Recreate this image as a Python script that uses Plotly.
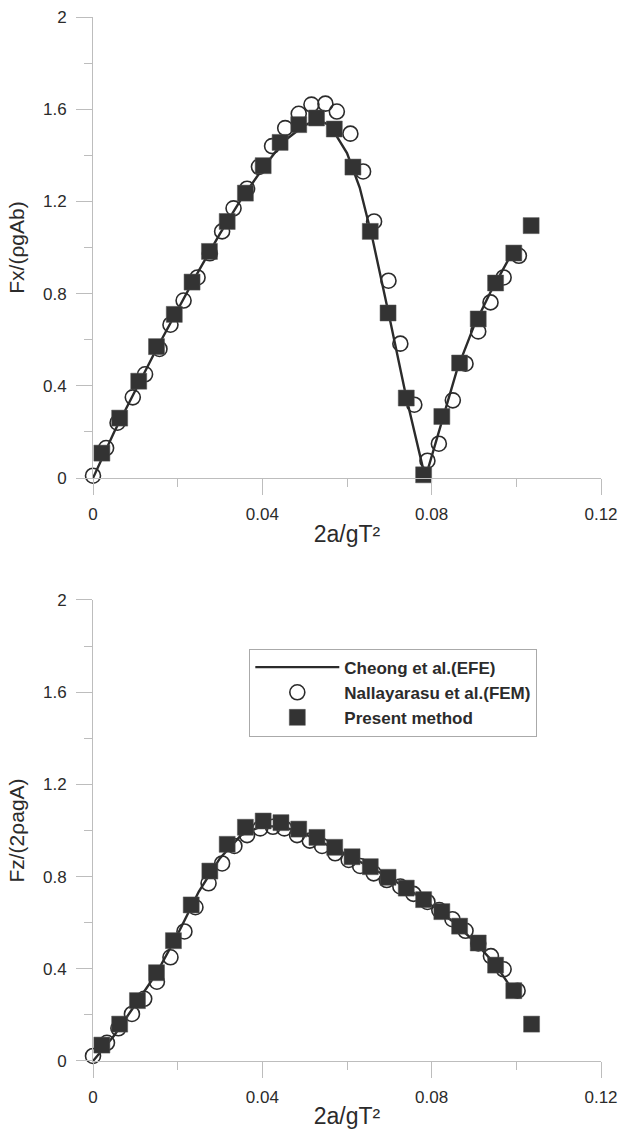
import plotly.graph_objects as go

# ---------------- Top panel: Fx ----------------
fx_line_x = [0.0, 0.005, 0.010, 0.015, 0.020, 0.025, 0.030, 0.035, 0.040, 0.045,
             0.050, 0.053, 0.056, 0.060, 0.063, 0.066, 0.070, 0.074, 0.0785,
             0.082, 0.086, 0.090, 0.094, 0.0985]
fx_line_y = [0.0, 0.20, 0.38, 0.56, 0.73, 0.90, 1.06, 1.21, 1.34, 1.46,
             1.53, 1.555, 1.53, 1.41, 1.26, 1.04, 0.70, 0.35, 0.0,
             0.22, 0.47, 0.66, 0.81, 0.96]

fx_fem_x = [0.0, 0.0031, 0.0058, 0.0094, 0.0123, 0.0157, 0.0183, 0.0214, 0.0247,
            0.0276, 0.0305, 0.0332, 0.0364, 0.0392, 0.0423, 0.0454, 0.0486, 0.0516,
            0.0549, 0.0576, 0.0608, 0.0638, 0.0664, 0.0698, 0.0726, 0.0759, 0.0790,
            0.0817, 0.0850, 0.0880, 0.0910, 0.0939, 0.0970, 0.1006]
fx_fem_y = [0.01, 0.13, 0.24, 0.35, 0.45, 0.56, 0.665, 0.77, 0.87,
            0.975, 1.07, 1.17, 1.255, 1.35, 1.44, 1.518, 1.58, 1.62,
            1.624, 1.59, 1.494, 1.33, 1.113, 0.856, 0.583, 0.318, 0.075,
            0.149, 0.337, 0.496, 0.636, 0.762, 0.87, 0.964]

fx_pm_x = [0.0021, 0.0063, 0.0108, 0.0150, 0.0192, 0.0234, 0.0275, 0.0317, 0.0360,
           0.0402, 0.0442, 0.0486, 0.0528, 0.0570, 0.0614, 0.0655, 0.0697, 0.0740,
           0.0781, 0.0824, 0.0866, 0.0910, 0.0951, 0.0994, 0.1035]
fx_pm_y = [0.108, 0.26, 0.42, 0.57, 0.71, 0.85, 0.983, 1.113, 1.236,
           1.355, 1.456, 1.533, 1.562, 1.514, 1.349, 1.07, 0.716, 0.347,
           0.014, 0.267, 0.499, 0.69, 0.846, 0.976, 1.095]

# ---------------- Bottom panel: Fz ----------------
fz_line_x = [0.0, 0.005, 0.010, 0.015, 0.020, 0.025, 0.030, 0.035, 0.040, 0.045,
             0.050, 0.055, 0.060, 0.065, 0.070, 0.075, 0.080, 0.085, 0.090, 0.095, 0.0994]
fz_line_y = [0.0, 0.11, 0.245, 0.38, 0.55, 0.735, 0.88, 0.98, 1.02, 1.015,
             0.985, 0.94, 0.895, 0.845, 0.795, 0.74, 0.675, 0.605, 0.52, 0.42, 0.30]

fz_fem_x = [0.0, 0.0033, 0.0060, 0.0092, 0.0121, 0.0151, 0.0183, 0.0216, 0.0242,
            0.0273, 0.0305, 0.0334, 0.0364, 0.0395, 0.0425, 0.0452, 0.0482, 0.0512,
            0.0541, 0.0572, 0.0604, 0.0631, 0.0663, 0.0694, 0.0726, 0.0757, 0.0790,
            0.0818, 0.0849, 0.0880, 0.0910, 0.0940, 0.0970, 0.1003]
fz_fem_y = [0.022, 0.079, 0.142, 0.204, 0.27, 0.344, 0.45, 0.562, 0.667,
            0.771, 0.857, 0.933, 0.98, 1.009, 1.016, 1.009, 0.98, 0.956,
            0.933, 0.901, 0.872, 0.846, 0.814, 0.785, 0.757, 0.725, 0.69,
            0.655, 0.615, 0.565, 0.51, 0.455, 0.398, 0.305]

fz_pm_x = [0.0021, 0.0063, 0.0105, 0.0150, 0.0190, 0.0232, 0.0276, 0.0317, 0.0360,
           0.0402, 0.0444, 0.0486, 0.0529, 0.0571, 0.0612, 0.0655, 0.0697, 0.0740,
           0.0781, 0.0824, 0.0866, 0.0910, 0.0951, 0.0994, 0.1036]
fz_pm_y = [0.069, 0.16, 0.262, 0.383, 0.522, 0.677, 0.824, 0.94, 1.014,
           1.041, 1.034, 1.006, 0.97, 0.927, 0.886, 0.843, 0.797, 0.75,
           0.70, 0.648, 0.585, 0.512, 0.416, 0.305, 0.16]

names = ["Cheong et al.(EFE)", "Nallayarasu et al.(FEM)", "Present method"]
x_title = "2a/gT²"
y_titles = ["Fx/(ρgAb)", "Fz/(2ρagA)"]

INK = "#2b2b2b"
AX = "#bdbdbd"
FONT = "Liberation Sans, Arial, sans-serif"

fig = go.Figure()

panels = [
    (fx_line_x, fx_line_y, fx_fem_x, fx_fem_y, fx_pm_x, fx_pm_y, "x", "y", False),
    (fz_line_x, fz_line_y, fz_fem_x, fz_fem_y, fz_pm_x, fz_pm_y, "x2", "y2", True),
]
for lx, ly, cx, cy, sx, sy, xa, ya, show in panels:
    fig.add_trace(go.Scatter(x=cx, y=cy, mode="markers", name=names[1],
                             legendrank=2, showlegend=show, xaxis=xa, yaxis=ya,
                             cliponaxis=False,
                             marker=dict(symbol="circle-open", size=15, color=INK,
                                         line=dict(width=1.6, color=INK))))
    fig.add_trace(go.Scatter(x=lx, y=ly, mode="lines", name=names[0],
                             legendrank=1, showlegend=show, xaxis=xa, yaxis=ya,
                             cliponaxis=False,
                             line=dict(color=INK, width=2.4)))
    fig.add_trace(go.Scatter(x=sx, y=sy, mode="markers", name=names[2],
                             legendrank=3, showlegend=show, xaxis=xa, yaxis=ya,
                             cliponaxis=False,
                             marker=dict(symbol="square", size=16, color="#333333",
                                         line=dict(width=0.5, color="#555555"))))

def xax(domain_anchor):
    return dict(range=[0, 0.12], tick0=0, dtick=0.04, ticks="outside", ticklen=16,
                tickwidth=1, tickcolor=AX, showline=True, linecolor=AX, linewidth=1,
                showgrid=False, zeroline=False, anchor=domain_anchor,
                ticklabelstandoff=5,
                tickfont=dict(size=17, color=INK, family=FONT),
                minor=dict(dtick=0.02, ticks="outside", ticklen=8, tickcolor=AX,
                           tickwidth=1, showgrid=False),
                title=dict(text=x_title, font=dict(size=23, color=INK, family=FONT),
                           standoff=2))

def yax(domain, anchor, title):
    return dict(range=[0, 2], tick0=0, dtick=0.4, ticks="outside", ticklen=16,
                tickwidth=1, tickcolor=AX, showline=True, linecolor=AX, linewidth=1,
                showgrid=False, zeroline=False, domain=domain, anchor=anchor,
                ticklabelstandoff=6,
                tickfont=dict(size=17, color=INK, family=FONT),
                minor=dict(dtick=0.2, ticks="outside", ticklen=8, tickcolor=AX,
                           tickwidth=1, showgrid=False),
                title=dict(text=title, font=dict(size=21, color=INK, family=FONT),
                           standoff=12))

fig.update_layout(
    width=619, height=1129,
    margin=dict(l=93, r=18, t=17, b=68, autoexpand=False),
    paper_bgcolor="white", plot_bgcolor="white",
    font=dict(family=FONT, color=INK),
    xaxis=xax("y"),
    yaxis=yax([0.5584, 1.0], "x", y_titles[0]),
    xaxis2=xax("y2"),
    yaxis2=yax([0.0, 0.4416], "x2", y_titles[1]),
    legend=dict(x=0.3077, y=0.395, xanchor="left", yanchor="top",
                bgcolor="white", bordercolor="#aaaaaa", borderwidth=1,
                font=dict(size=17, color=INK, family=FONT, weight="bold"),
                itemwidth=84, tracegroupgap=0, itemsizing="trace"),
    showlegend=True,
)

fig.write_html("out.html")
